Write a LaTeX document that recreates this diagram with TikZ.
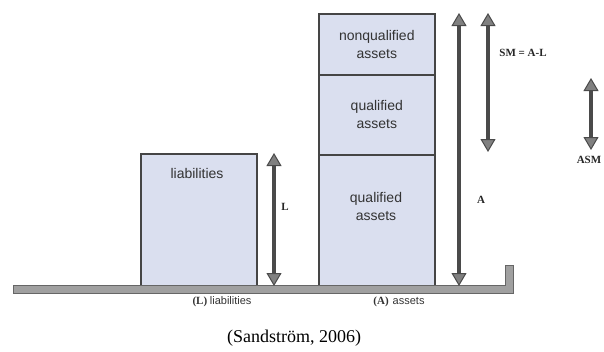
\documentclass[tikz,border=0pt]{standalone}
\usepackage{fontspec}
\setmainfont{Liberation Serif}
\newfontfamily\arialfont{Liberation Sans}
\usetikzlibrary{arrows.meta}
\definecolor{boxfill}{HTML}{DADFEF}
\definecolor{boxline}{HTML}{454545}
\definecolor{arrowgray}{HTML}{4A4A4A}
\definecolor{groundgray}{HTML}{A0A0A0}

\begin{document}
\begin{tikzpicture}[x=1pt, y=-1pt,
  box/.style={draw=boxline, fill=boxfill, line width=1.6pt, anchor=north west, inner sep=0pt,
    font=\arialfont\fontsize{14}{18}\selectfont, align=center, text=black!80},
  boxtext/.style={font=\arialfont\fontsize{14}{18}\selectfont, align=center, text=black!80},
  dimarrow/.style={draw=arrowgray, line width=3.5pt,
    {Triangle[width=15pt,length=13pt,fill=arrowgray!70,line width=1pt]}-{Triangle[width=15pt,length=13pt,fill=arrowgray!70,line width=1pt]}},
  dimlabel/.style={font=\bfseries\fontsize{11}{13}\selectfont, text=black!85},
  axlabel/.style={font=\fontsize{11}{13}\selectfont, text=black!80}]
\useasboundingbox (0,0) rectangle (604,351);
% Colonnes
\node[box, minimum width=116pt, minimum height=134pt] (liab) at (140,153) {};
\node[boxtext] (liabtxt) at (197,173) {liabilities};
\node[box, minimum width=116pt, minimum height=61pt] (nonq) at (318,13) {nonqualified\\assets};
\node[box, minimum width=116pt, minimum height=80pt] (qualup) at (318,74) {qualified\\assets};
\node[box, minimum width=116pt, minimum height=133pt] (quallow) at (318,154) {};
\node[boxtext] (quallowtxt) at (376,206) {qualified\\assets};
% Sol
\draw[draw=gray!80!black, fill=groundgray, line width=0.6pt]
  (13,285) -- (505,285) -- (505,265) -- (513,265) -- (513,293) -- (13,293) -- cycle;
% Fleches
\coordinate (Ltop) at (274,153);
\coordinate (Lbot) at (274,286);
\coordinate (Atop) at (459,13);
\coordinate (Abot) at (459,286);
\coordinate (SMtop) at (488,13);
\coordinate (SMbot) at (488,152);
\coordinate (ASMtop) at (591,78);
\coordinate (ASMbot) at (591,150);
\draw[dimarrow] (Ltop) -- (Lbot);
\draw[dimarrow] (Atop) -- (Abot);
\draw[dimarrow] (SMtop) -- (SMbot);
\draw[dimarrow] (ASMtop) -- (ASMbot);
\node[dimlabel] (Llab) at (285,207) {L};
\node[dimlabel] (Alab) at (481,200) {A};
\node[dimlabel] (SMlab) at (523,53) {SM = A-L};
\node[dimlabel] (ASMlab) at (589,160) {ASM};
% Legendes
\node[axlabel] (liabax) at (222,302) {\textbf{(L)} {\arialfont liabilities}};
\node[axlabel] (assetax) at (399,302) {\textbf{(A)}\hspace{4pt}{\arialfont assets}};
\node[font=\fontsize{18}{20}\selectfont] (source) at (294,338) {(Sandström, 2006)};
\end{tikzpicture}
\end{document}
